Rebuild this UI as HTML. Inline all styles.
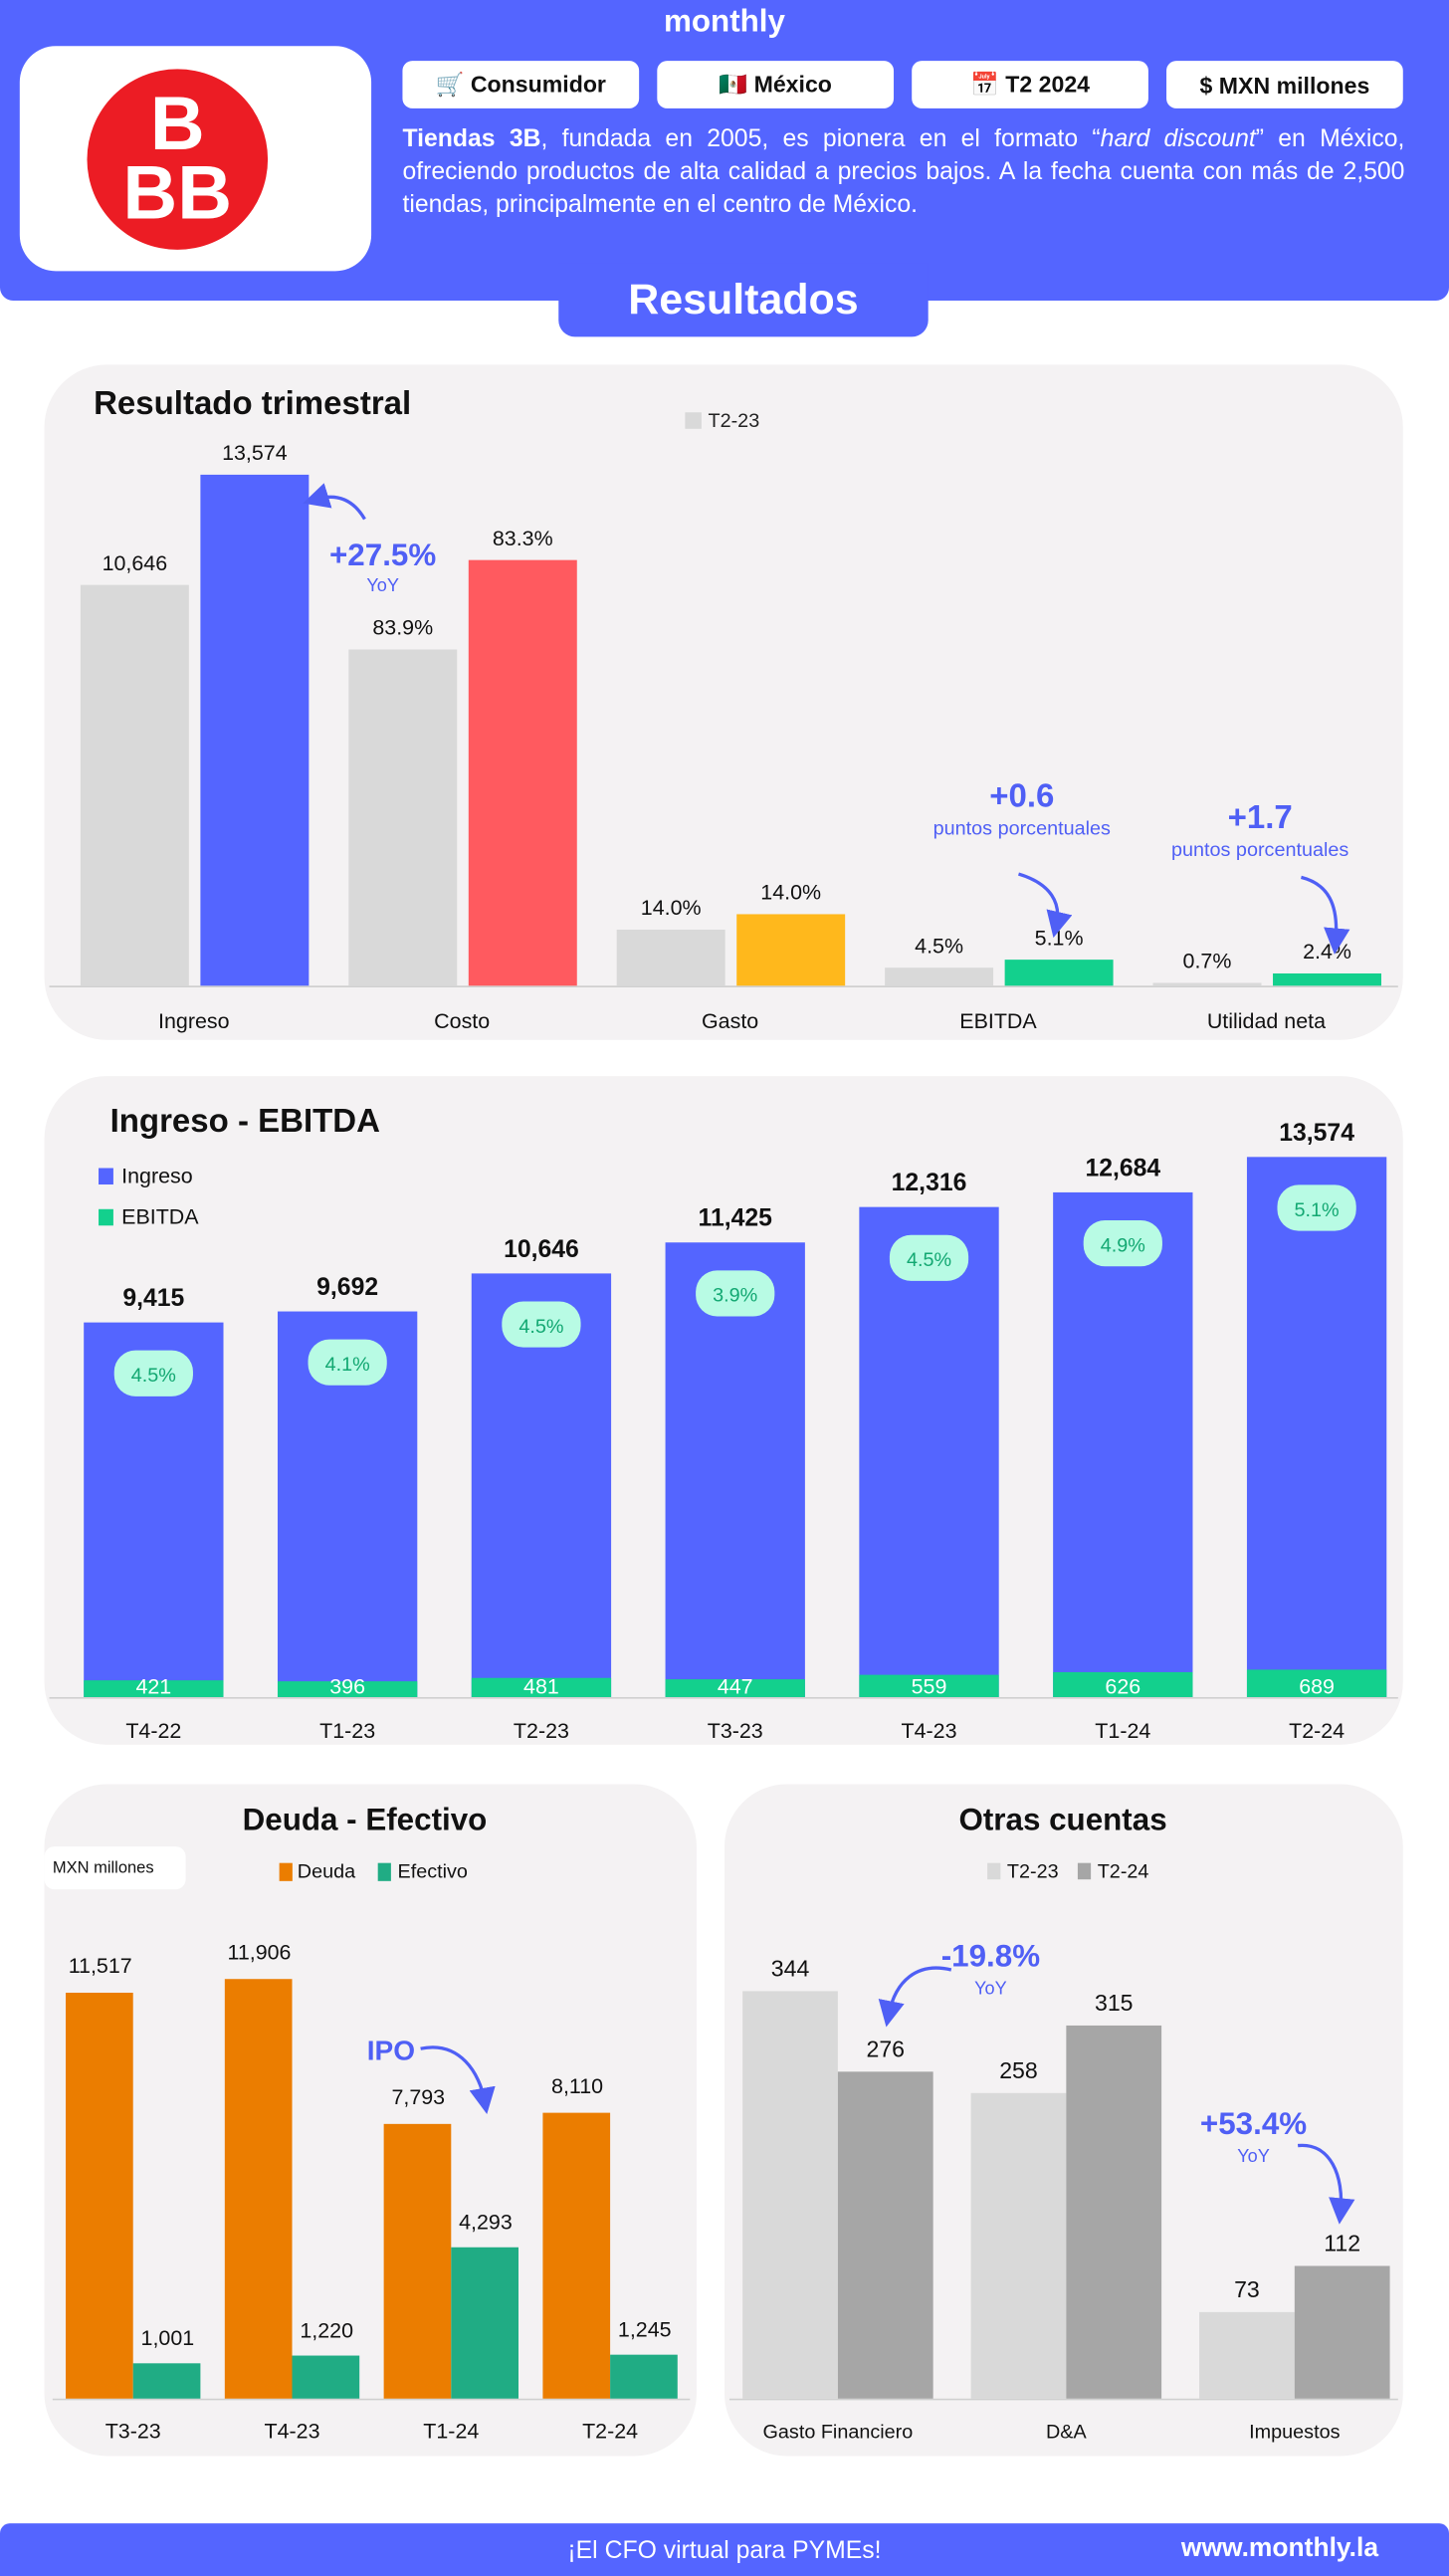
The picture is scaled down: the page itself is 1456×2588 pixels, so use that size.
<!DOCTYPE html>
<html><head><meta charset="utf-8">
<style>
html,body{margin:0;padding:0;background:#fff;}
body{width:1456px;height:2588px;overflow:hidden;font-family:"Liberation Sans",sans-serif;}
#page{position:absolute;left:0;top:0;width:882px;height:1568px;transform:scale(1.65079,1.65051);transform-origin:0 0;}
.abs{position:absolute;}
.tag{position:absolute;top:37px;height:29px;width:144px;background:#fff;border-radius:6px;font-size:14px;font-weight:bold;color:#111;display:flex;align-items:center;justify-content:center;}
.desc{position:absolute;left:245px;top:75px;width:610px;color:#fff;font-size:15px;line-height:20px;text-align:justify;}
svg text{font-family:"Liberation Sans",sans-serif;}
</style></head>
<body>
<div id="page">
  <div class="abs" style="left:0;top:0;width:882px;height:183px;background:#5465FF;border-radius:0 0 8px 8px;"></div>
  <div class="abs" style="left:0;top:3px;width:882px;text-align:center;color:#fff;font-weight:bold;font-size:19px;">monthly</div>
  <div class="abs" style="left:12px;top:28px;width:214px;height:137px;background:#fff;border-radius:22px;">
    <div style="position:absolute;left:41px;top:14px;width:110px;height:110px;border-radius:50%;background:#EC1C24;color:#fff;font-weight:bold;text-align:center;font-size:46px;line-height:42px;padding-top:12px;box-sizing:border-box;">B<br>BB</div>
  </div>
  <div class="tag" style="left:245px;">🛒 Consumidor</div>
  <div class="tag" style="left:400px;">🇲🇽 México</div>
  <div class="tag" style="left:555px;">📅 T2 2024</div>
  <div class="tag" style="left:710px;">$ MXN millones</div>
  <div class="desc"><b>Tiendas 3B</b>, fundada en 2005, es pionera en el formato “<i>hard discount</i>” en México, ofreciendo productos de alta calidad a precios bajos. A la fecha cuenta con más de 2,500 tiendas, principalmente en el centro de México.</div>
  <div class="abs" style="left:340px;top:160px;width:225px;height:45px;background:#5465FF;border-radius:0 0 10px 10px;color:#fff;font-weight:bold;font-size:26px;text-align:center;line-height:44px;">Resultados</div>

  <svg id="c" class="abs" style="left:0;top:0" width="882" height="1568" viewBox="0 0 882 1568">
    <defs><marker id="ah" markerWidth="8" markerHeight="8" refX="4" refY="4" orient="auto"><path d="M0,0 L8,4 L0,8 Z" fill="#4F5FF5"/></marker></defs>
  </svg>

  <div class="abs" style="left:0;top:1536px;width:882px;height:32px;background:#5465FF;border-radius:6px 6px 0 0;"></div>
  <div class="abs" style="left:0;top:1544px;width:882px;text-align:center;color:#fff;font-size:15px;">¡El CFO virtual para PYMEs!</div>
  <div class="abs" style="left:719px;top:1543px;color:#fff;font-size:16px;font-weight:bold;">www.monthly.la</div>
</div>
<script>
// Chart 1: Resultado trimestral
const c1Categories = ["Ingreso","Costo","Gasto","EBITDA","Utilidad neta"];
const c1Prior = [10646, 8932, 1490, 479, 75];
const c1Current = [13574, 11307, 1900, 692, 326];
const c1PriorLabels = ["10,646","83.9%","14.0%","4.5%","0.7%"];
const c1CurrentLabels = ["13,574","83.3%","14.0%","5.1%","2.4%"];
// Chart 2: Ingreso - EBITDA
const c2Categories = ["T4-22","T1-23","T2-23","T3-23","T4-23","T1-24","T2-24"];
const c2Ingreso = [9415, 9692, 10646, 11425, 12316, 12684, 13574];
const c2Ebitda = [421, 396, 481, 447, 559, 626, 689];
const c2Margin = ["4.5%","4.1%","4.5%","3.9%","4.5%","4.9%","5.1%"];
// Chart 3: Deuda - Efectivo
const c3Categories = ["T3-23","T4-23","T1-24","T2-24"];
const c3Deuda = [11517, 11906, 7793, 8110];
const c3Efectivo = [1001, 1220, 4293, 1245];
// Chart 4: Otras cuentas
const c4Categories = ["Gasto Financiero","D&A","Impuestos"];
const c4Prior = [344, 258, 73];
const c4Current = [276, 315, 112];

const svg = document.getElementById('c');
const NS = "http://www.w3.org/2000/svg";
function mk(tag, attrs, txt){const e=document.createElementNS(NS,tag);for(const k in attrs)e.setAttribute(k,attrs[k]);if(txt!==undefined)e.textContent=txt;svg.appendChild(e);return e;}
const fmt = v => v.toLocaleString('en-US');

let p;
p=mk('rect',{x:27,y:222,width:827,height:411,rx:38,fill:'#F4F2F3'});


p=mk('rect',{x:27,y:655,width:827,height:407,rx:38,fill:'#F4F2F3'});


p=mk('rect',{x:27,y:1086,width:397,height:409,rx:38,fill:'#F4F2F3'});


p=mk('rect',{x:441,y:1086,width:413,height:409,rx:38,fill:'#F4F2F3'});



// ---- Chart 1
let t;
t=mk('text',{x:57,y:252,'font-size':20,'font-weight':'bold',fill:'#111'},'Resultado trimestral');


t=mk('rect',{x:417,y:251,width:10,height:10,fill:'#D9D9D9'});


t=mk('text',{x:431,y:260,'font-size':12,fill:'#222'},'T2-23');


const y1 = v => 600 - v*0.022915;
const x1 = i => 118 + i*163.2;
const c1Colors = ['#5465FF','#FF5A5F','#FFB81C','#13D08D','#13D08D'];
mk('line',{x1:30,x2:851,y1:600.5,y2:600.5,stroke:'#d0d0d0'});
c1Categories.forEach((c,i)=>{
  const cx=x1(i);
  let b=mk('rect',{x:cx-69,y:y1(c1Prior[i]),width:66,height:600-y1(c1Prior[i]),fill:'#D9D9D9'});
  
  
  b=mk('rect',{x:cx+4,y:y1(c1Current[i]),width:66,height:600-y1(c1Current[i]),fill:c1Colors[i]});
  
  
  let l=mk('text',{x:cx-36,y:y1(c1Prior[i])-9,'font-size':13,'text-anchor':'middle',fill:'#111'},c1PriorLabels[i]);
  
  
  l=mk('text',{x:cx+37,y:y1(c1Current[i])-9,'font-size':13,'text-anchor':'middle',fill:'#111'},c1CurrentLabels[i]);
  
  
  l=mk('text',{x:cx,y:626,'font-size':13,'text-anchor':'middle',fill:'#111'},c);
  
  
});
function ann(x,y,big,small,name,bs){
  let a=mk('text',{x:x,y:y,'font-size':bs||19,'font-weight':'bold','text-anchor':'middle',fill:'#4F5FF5'},big);
  
  
  a=mk('text',{x:x,y:y+(bs?17:16),'font-size':small==='YoY'?11:12,'text-anchor':'middle',fill:'#4F5FF5'},small);
  
  
}
ann(233,344,'+27.5%','YoY','annotation-ingreso-yoy');
mk('path',{d:'M222,316 C215,304 205,300 192,304',fill:'none',stroke:'#4F5FF5','stroke-width':2,'marker-end':'url(#ah)'});
ann(622,491,'+0.6','puntos porcentuales','annotation-ebitda',20);
mk('path',{d:'M620,532 C640,538 646,550 643,563',fill:'none',stroke:'#4F5FF5','stroke-width':2,'marker-end':'url(#ah)'});
ann(767,504,'+1.7','puntos porcentuales','annotation-utilidad',20);
mk('path',{d:'M792,534 C808,538 815,550 813,573',fill:'none',stroke:'#4F5FF5','stroke-width':2,'marker-end':'url(#ah)'});

// ---- Chart 2
t=mk('text',{x:67,y:689,'font-size':20,'font-weight':'bold',fill:'#111'},'Ingreso - EBITDA');


t=mk('rect',{x:60,y:711,width:9,height:10,fill:'#5465FF'});


t=mk('text',{x:74,y:720,'font-size':13,fill:'#111'},'Ingreso');


t=mk('rect',{x:60,y:736,width:9,height:10,fill:'#13D08D'});


t=mk('text',{x:74,y:745,'font-size':13,fill:'#111'},'EBITDA');


const y2 = v => 1033 - v*0.02422;
const x2 = i => 93.5 + i*118;
mk('line',{x1:30,x2:851,y1:1033.5,y2:1033.5,stroke:'#d0d0d0'});
c2Categories.forEach((c,i)=>{
  const cx=x2(i), top=y2(c2Ingreso[i]), et=y2(c2Ebitda[i]);
  let b=mk('rect',{x:cx-42.5,y:top,width:85,height:1033-top,fill:'#5465FF'});
  
  
  b=mk('rect',{x:cx-42.5,y:et,width:85,height:1033-et,fill:'#13D08D'});
  
  
  let l=mk('text',{x:cx,y:top-10,'font-size':15,'font-weight':'bold','text-anchor':'middle',fill:'#111'},fmt(c2Ingreso[i]));
  
  
  l=mk('text',{x:cx,y:1031,'font-size':13,'text-anchor':'middle',fill:'#fff'},fmt(c2Ebitda[i]));
  
  
  let pill=mk('rect',{x:cx-24,y:top+17,width:48,height:28,rx:13,fill:'#B8FBE4'});
  
  
  l=mk('text',{x:cx,y:top+36,'font-size':12,'text-anchor':'middle',fill:'#13A872'},c2Margin[i]);
  
  
  l=mk('text',{x:cx,y:1058,'font-size':13,'text-anchor':'middle',fill:'#111'},c);
  
  
});

// ---- Chart 3
t=mk('text',{x:222,y:1114,'font-size':19,'font-weight':'bold','text-anchor':'middle',fill:'#111'},'Deuda - Efectivo');


t=mk('rect',{x:27,y:1124,width:86,height:26,rx:6,fill:'#fff'});


t=mk('text',{x:32,y:1140,'font-size':10,fill:'#111'},'MXN millones');


t=mk('rect',{x:170,y:1134,width:8,height:11,fill:'#EB7D00'});


t=mk('text',{x:181,y:1143,'font-size':12,fill:'#111'},'Deuda');


t=mk('rect',{x:230,y:1134,width:8,height:11,fill:'#20AC84'});


t=mk('text',{x:242,y:1143,'font-size':12,fill:'#111'},'Efectivo');


const y3 = v => 1460 - v*0.02145;
const x3 = i => 81 + i*96.8;
mk('line',{x1:32,x2:420,y1:1460.5,y2:1460.5,stroke:'#d0d0d0'});
c3Categories.forEach((c,i)=>{
  const cx=x3(i);
  let b=mk('rect',{x:cx-41,y:y3(c3Deuda[i]),width:41,height:1460-y3(c3Deuda[i]),fill:'#EB7D00'});
  
  
  b=mk('rect',{x:cx,y:y3(c3Efectivo[i]),width:41,height:1460-y3(c3Efectivo[i]),fill:'#20AC84'});
  
  
  let l=mk('text',{x:cx-20,y:y3(c3Deuda[i])-12,'font-size':13,'text-anchor':'middle',fill:'#111'},fmt(c3Deuda[i]));
  
  
  l=mk('text',{x:cx+21,y:y3(c3Efectivo[i])-11,'font-size':13,'text-anchor':'middle',fill:'#111'},fmt(c3Efectivo[i]));
  
  
  l=mk('text',{x:cx,y:1484,'font-size':13,'text-anchor':'middle',fill:'#111'},c);
  
  
});
t=mk('text',{x:238,y:1254,'font-size':17,'font-weight':'bold','text-anchor':'middle',fill:'#4F5FF5'},'IPO');


mk('path',{d:'M256,1247 C280,1242 292,1262 295,1279',fill:'none',stroke:'#4F5FF5','stroke-width':2,'marker-end':'url(#ah)'});

// ---- Chart 4
t=mk('text',{x:647,y:1114,'font-size':19,'font-weight':'bold','text-anchor':'middle',fill:'#111'},'Otras cuentas');


t=mk('rect',{x:601,y:1134,width:8,height:10,fill:'#D9D9D9'});


t=mk('text',{x:613,y:1143,'font-size':12,fill:'#111'},'T2-23');


t=mk('rect',{x:656,y:1134,width:8,height:10,fill:'#A6A6A6'});


t=mk('text',{x:668,y:1143,'font-size':12,fill:'#111'},'T2-24');


const y4 = v => 1460 - v*0.7209;
const x4 = i => 510 + i*139;
mk('line',{x1:444,x2:851,y1:1460.5,y2:1460.5,stroke:'#d0d0d0'});
c4Categories.forEach((c,i)=>{
  const cx=x4(i);
  let b=mk('rect',{x:cx-58,y:y4(c4Prior[i]),width:58,height:1460-y4(c4Prior[i]),fill:'#D9D9D9'});
  
  
  b=mk('rect',{x:cx,y:y4(c4Current[i]),width:58,height:1460-y4(c4Current[i]),fill:'#A6A6A6'});
  
  
  let l=mk('text',{x:cx-29,y:y4(c4Prior[i])-9,'font-size':14,'text-anchor':'middle',fill:'#111'},fmt(c4Prior[i]));
  
  
  l=mk('text',{x:cx+29,y:y4(c4Current[i])-9,'font-size':14,'text-anchor':'middle',fill:'#111'},fmt(c4Current[i]));
  
  
  l=mk('text',{x:cx,y:1484,'font-size':12,'text-anchor':'middle',fill:'#111'},c);
  
  
});
ann(603,1197,'-19.8%','YoY','annotation-gasto-financiero',19);
mk('path',{d:'M579,1199 C558,1194 545,1206 541,1226',fill:'none',stroke:'#4F5FF5','stroke-width':2,'marker-end':'url(#ah)'});
ann(763,1299,'+53.4%','YoY','annotation-impuestos',19);
mk('path',{d:'M790,1306 C810,1304 818,1325 816,1346',fill:'none',stroke:'#4F5FF5','stroke-width':2,'marker-end':'url(#ah)'});
</script>
</body></html>
